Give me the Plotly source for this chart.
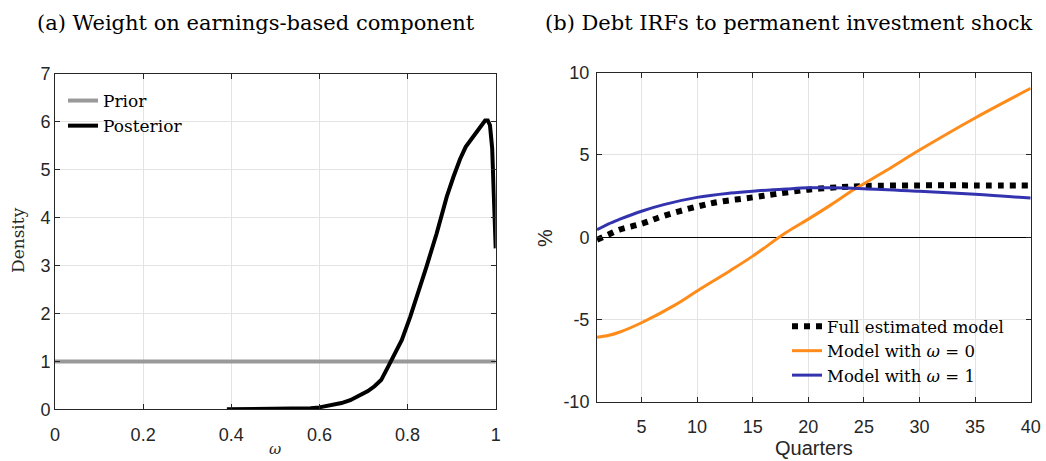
import plotly.graph_objects as go

# ---------------- data ----------------
# Panel (a): prior / posterior density of omega
prior_omega = [0.0, 1.0]
prior_density = [1.0, 1.0]

post_omega = [0.39, 0.45, 0.50, 0.55, 0.58, 0.60, 0.62, 0.65, 0.67, 0.69, 0.71,
              0.725, 0.74, 0.756, 0.768, 0.787, 0.806, 0.824, 0.843, 0.866,
              0.889, 0.904, 0.919, 0.932, 0.945, 0.957, 0.968, 0.976, 0.982,
              0.987, 0.992, 0.995, 1.0]
post_density = [0.0, 0.0, 0.0, 0.005, 0.02, 0.04, 0.07, 0.13, 0.19, 0.28, 0.38,
                0.48, 0.61, 0.89, 1.10, 1.45, 1.93, 2.42, 2.98, 3.67,
                4.44, 4.85, 5.22, 5.48, 5.64, 5.78, 5.93, 6.03, 6.03,
                5.93, 5.45, 4.47, 3.36]

# Panel (b): debt IRFs (percent) by quarter
q_full = [1, 2, 3, 5, 7, 10, 12, 15, 17, 20, 23, 25, 30, 35, 40]
irf_full = [-0.15, 0.15, 0.45, 0.82, 1.30, 1.86, 2.15, 2.42, 2.62, 2.89, 3.05, 3.11, 3.15, 3.15, 3.15]

q_w0 = [1, 2, 3, 5, 8, 10, 13, 15, 18, 20, 22, 24, 25, 27, 30, 35, 40]
irf_w0 = [-6.08, -5.98, -5.78, -5.20, -4.13, -3.27, -2.02, -1.15, 0.28, 1.10, 1.95,
          2.85, 3.25, 4.05, 5.30, 7.25, 9.05]

q_w1 = [1, 2, 3, 5, 7, 10, 13, 15, 18, 20, 22, 25, 30, 35, 40]
irf_w1 = [0.45, 0.80, 1.08, 1.58, 1.98, 2.42, 2.68, 2.80, 2.93, 3.00, 3.00, 2.95, 2.79, 2.61, 2.38]

xticks_a = [0, 0.2, 0.4, 0.6, 0.8, 1.0]
xticklabels_a = ["0", "0.2", "0.4", "0.6", "0.8", "1"]
yticks_a = [0, 1, 2, 3, 4, 5, 6, 7]
xticks_b = [5, 10, 15, 20, 25, 30, 35, 40]
yticks_b = [-10, -5, 0, 5, 10]
yticklabels_b = ["-10", "-5", "0", "5", "10"]

# ---------------- figure ----------------
W, H = 1046, 461
SERIF = "DejaVu Serif"
SANS = "Liberation Sans"
AXC = "#262626"
GRID = "#e3e3e3"

fig = go.Figure()

fig.add_trace(go.Scatter(x=prior_omega, y=prior_density, mode="lines", name="Prior",
                         line=dict(color="#999999", width=4),
                         xaxis="x", yaxis="y", legend="legend"))
fig.add_trace(go.Scatter(x=post_omega, y=post_density, mode="lines", name="Posterior",
                         line=dict(color="black", width=4),
                         xaxis="x", yaxis="y", legend="legend"))

fig.add_trace(go.Scatter(x=q_full, y=irf_full, mode="lines", name="Full estimated model",
                         line=dict(color="black", width=6, dash="6px,6px", shape="spline"),
                         xaxis="x2", yaxis="y2", legend="legend2"))
fig.add_trace(go.Scatter(x=q_w0, y=irf_w0, mode="lines", name="Model with <i>ω</i> = 0",
                         line=dict(color="#ff8c1a", width=3, shape="spline"),
                         xaxis="x2", yaxis="y2", legend="legend2"))
fig.add_trace(go.Scatter(x=q_w1, y=irf_w1, mode="lines", name="Model with <i>ω</i> = 1",
                         line=dict(color="#3333b0", width=3, shape="spline"),
                         xaxis="x2", yaxis="y2", legend="legend2"))

def px_x(v):
    return v / W

def px_y(v):
    return 1 - v / H

common_axis = dict(showgrid=True, gridcolor=GRID, gridwidth=1, ticks="inside", ticklen=5,
                   tickcolor=AXC, showline=True, linecolor=AXC, linewidth=1, mirror="ticks",
                   tickfont=dict(family=SANS, size=18, color=AXC), fixedrange=True,
                   automargin=False)

fig.update_layout(
    width=W, height=H,
    margin=dict(l=0, r=0, t=0, b=0, pad=0, autoexpand=False),
    paper_bgcolor="white", plot_bgcolor="white",
    xaxis=dict(common_axis, domain=[px_x(55), px_x(495.7)], range=[0, 1], anchor="y",
               tickvals=xticks_a, ticktext=xticklabels_a, zeroline=False, ticklabelstandoff=9),
    yaxis=dict(common_axis, domain=[px_y(409.3), px_y(74)], range=[0, 7], anchor="x",
               tickvals=yticks_a, zeroline=False, ticklabelstandoff=0),
    xaxis2=dict(common_axis, domain=[px_x(597), px_x(1030.7)], range=[1, 40], anchor="y2",
                tickvals=xticks_b, zeroline=False, ticklabelstandoff=9),
    yaxis2=dict(common_axis, domain=[px_y(401.7), px_y(72.7)], range=[-10, 10], anchor="x2",
                tickvals=yticks_b, ticktext=yticklabels_b, zeroline=True,
                zerolinecolor="black", zerolinewidth=1, ticklabelstandoff=3),
    legend=dict(x=px_x(63), y=px_y(83), xanchor="left", yanchor="top",
                bgcolor="rgba(0,0,0,0)", itemwidth=30,
                font=dict(family=SERIF, size=17, color="black"), tracegroupgap=0),
    legend2=dict(x=px_x(787), y=px_y(309), xanchor="left", yanchor="top",
                 bgcolor="rgba(0,0,0,0)", itemwidth=30,
                 font=dict(family=SERIF, size=16.5, color="black"), tracegroupgap=0),
    showlegend=True,
)

annots = [
    dict(text="(a) Weight on earnings-based component", x=px_x(35), y=px_y(23),
         xanchor="left", yanchor="middle", font=dict(family=SERIF, size=21, color="black")),
    dict(text="(b) Debt IRFs to permanent investment shock", x=px_x(543), y=px_y(23),
         xanchor="left", yanchor="middle", font=dict(family=SERIF, size=21, color="black")),
    dict(text="Density", x=px_x(18), y=px_y(240), textangle=-90,
         xanchor="center", yanchor="middle", font=dict(family=SERIF, size=17, color=AXC)),
    dict(text="<i>ω</i>", x=px_x(275.4), y=px_y(449),
         xanchor="center", yanchor="middle", font=dict(family=SERIF, size=15, color=AXC)),
    dict(text="%", x=px_x(545), y=px_y(238), textangle=-90,
         xanchor="center", yanchor="middle", font=dict(family=SANS, size=20, color=AXC)),
    dict(text="Quarters", x=px_x(813.9), y=px_y(448),
         xanchor="center", yanchor="middle", font=dict(family=SANS, size=20, color=AXC)),
]
for a in annots:
    a.update(xref="paper", yref="paper", showarrow=False)
fig.update_layout(annotations=annots)

fig.write_html("out.html")
